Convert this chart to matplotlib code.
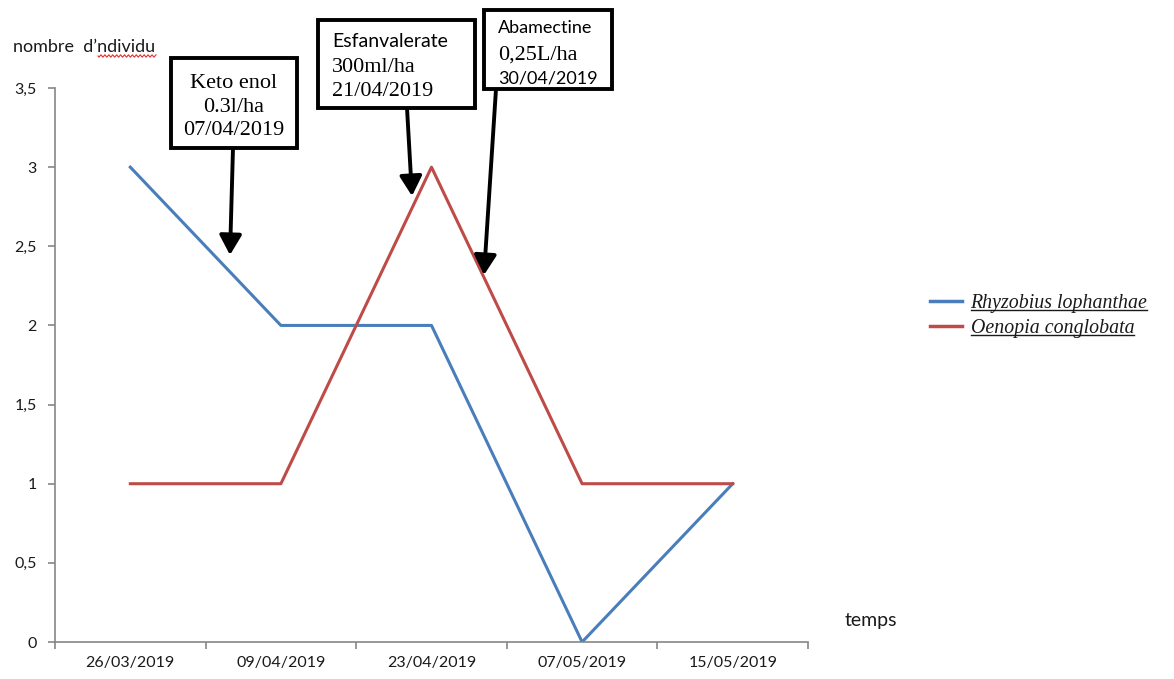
import matplotlib.pyplot as plt
from matplotlib.patches import Rectangle, FancyArrowPatch
from matplotlib.lines import Line2D
from matplotlib.ticker import FuncFormatter
import numpy as np

# dates de relevé et effectifs par espèce
dates = ["26/03/2019", "09/04/2019", "23/04/2019", "07/05/2019", "15/05/2019"]
rhyzobius = [3, 2, 2, 0, 1]
oenopia = [1, 1, 3, 1, 1]
series_names = ["Rhyzobius lophanthae", "Oenopia conglobata"]
series_colors = ["#4A7EBB", "#BE4B48"]

W, H = 1174, 679
SANS = ["Lato", "DejaVu Sans"]
SERIF = ["Liberation Serif", "DejaVu Serif"]
INK = "#1a1a1a"


def fp(x, y):
    # pixel (depuis le haut-gauche) -> fraction de figure
    return (x / W, 1 - y / H)


fig = plt.figure(figsize=(W / 100, H / 100), dpi=100)
ax = fig.add_axes([55 / W, 1 - 642 / H, (808 - 55) / W, (642 - 88) / H])

x = np.arange(len(dates))
ax.plot(x, rhyzobius, color=series_colors[0], lw=2.2, label=series_names[0])
ax.plot(x, oenopia, color=series_colors[1], lw=2.2, label=series_names[1])

ax.set_xlim(-0.5, len(dates) - 0.5)
ax.set_ylim(0, 3.5)
ax.set_yticks(np.arange(0, 3.51, 0.5))
ax.yaxis.set_major_formatter(FuncFormatter(lambda v, _: f"{v:g}".replace(".", ",")))
ax.set_xticks(x)
ax.set_xticklabels(dates)
ax.set_xticks(np.arange(-0.5, len(dates)), minor=True)
ax.tick_params(axis="x", which="major", length=0, pad=10)
ax.tick_params(axis="x", which="minor", length=5, color="#868686", width=1.2)
ax.tick_params(axis="y", length=5, color="#868686", width=1.2, pad=8)
for lab in ax.get_xticklabels() + ax.get_yticklabels():
    lab.set_family(SANS)
    lab.set_fontsize(11.5)
    lab.set_color(INK)

for s in ["top", "right"]:
    ax.spines[s].set_visible(False)
for s in ["left", "bottom"]:
    ax.spines[s].set_color("#868686")
    ax.spines[s].set_linewidth(1.2)

# titres des axes
fig.text(*fp(13, 52), "nombre  d\u2019ndividu", family=SANS, fontsize=13,
         color=INK, ha="left", va="baseline")
wx = np.linspace(98, 156, 60)
wy = 56 + 1.2 * np.sin((wx - 98) * 1.6)
fig.add_artist(Line2D(wx / W, 1 - wy / H, transform=fig.transFigure,
                      color="#E03030", lw=0.8))
fig.text(*fp(845, 626), "temps", family=SANS, fontsize=14,
         color=INK, ha="left", va="baseline")

# encadrés des traitements
boxes = [
    # (x0, y0, x1, y1, lignes, alignement)
    (171, 58, 297, 148, [("Keto enol", SERIF, 16), ("0.3l/ha", SERIF, 16),
                         ("07/04/2019", SERIF, 16)], "center"),
    (318, 20, 475, 108, [("Esfanvalerate", SANS, 14), ("300ml/ha", SERIF, 16),
                         ("21/04/2019", SERIF, 16)], "left"),
    (484, 10, 612, 89, [("Abamectine", SANS, 13), ("0,25L/ha", SERIF, 16),
                        ("30/04/2019", SANS, 13)], "left"),
]
line_y = [[88, 112, 135], [47, 72, 96], [33, 60, 83]]
for (x0, y0, x1, y1, lines, align), ys in zip(boxes, line_y):
    bx, by = fp(x0, y1)
    fig.add_artist(Rectangle((bx, by), (x1 - x0) / W, (y1 - y0) / H,
                             transform=fig.transFigure, fc="white",
                             ec="black", lw=2.8, zorder=5))
    for (txt, fam, size), yy in zip(lines, ys):
        tx = (x0 + x1) / 2 if align == "center" else x0 + 14
        fig.text(*fp(tx, yy), txt, family=fam, fontsize=size, ha=align,
                 va="baseline", color="black", zorder=6)

# flèches vers les dates d'application
arrows = [((233, 148), (230, 255)), ((407, 108), (412, 196)), ((496, 89), (484, 275))]
for tail, tip in arrows:
    fig.add_artist(FancyArrowPatch(fp(*tail), fp(*tip), transform=fig.transFigure,
                                   arrowstyle="-|>,head_length=0.8,head_width=0.45",
                                   mutation_scale=15, lw=2.8, color="black",
                                   shrinkA=0, shrinkB=0, zorder=4))

# légende avec noms soulignés
leg = fig.legend(loc="upper left", bbox_to_anchor=fp(912, 276), frameon=False,
                 prop={"family": SERIF, "style": "italic", "size": 14.3},
                 handlelength=1.6, handletextpad=0.45, labelspacing=0.3)
for h in leg.get_lines():
    h.set_linewidth(2.5)
for t in leg.get_texts():
    t.set_color(INK)
fig.canvas.draw()
inv = fig.transFigure.inverted()
for t in leg.get_texts():
    bb = t.get_window_extent()
    (ux0, uy), (ux1, _) = inv.transform([(bb.x0, bb.y0 + 3), (bb.x1, bb.y0 + 3)])
    fig.add_artist(Line2D([ux0, ux1], [uy, uy], transform=fig.transFigure,
                          color=INK, lw=1.0))

fig.savefig("out.png", dpi=100)
